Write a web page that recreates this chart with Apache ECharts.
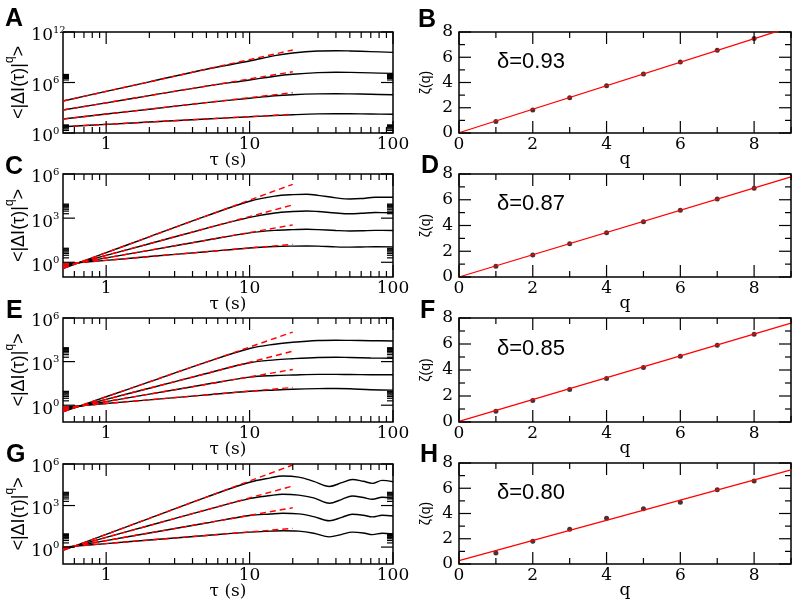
<!DOCTYPE html>
<html><head><meta charset="utf-8">
<script src="https://cdn.jsdelivr.net/npm/echarts@6/dist/echarts.min.js"></script>
<style>html,body{margin:0;padding:0;background:#fff}#c{width:797px;height:608px}</style>
</head><body><div id="c"></div><script>
// ---------- tick definitions ----------
const tauMajorTicks = [1, 10, 100];
const tauTickLabels = ['1', '10', '100'];
const tauMinorTicks = [0.6, 0.7, 0.8, 0.9, 2, 3, 4, 5, 6, 7, 8, 9, 20, 30, 40, 50, 60, 70, 80, 90];
const yMajorA = [1, 1e6, 1e12];
const yExpA = ['0', '6', '12'];
const yMinorA = [2, 3, 4, 5, 6, 7, 8, 9, 2e6, 3e6, 4e6, 5e6, 6e6, 7e6, 8e6, 9e6];
const yMajorCEG = [1, 1e3, 1e6];
const yExpCEG = ['0', '3', '6'];
const yMinorCEG = [2, 3, 4, 5, 6, 7, 8, 9, 2e3, 3e3, 4e3, 5e3, 6e3, 7e3, 8e3, 9e3];
const qMajorTicks = [0, 2, 4, 6, 8];
const qMinorTicks = [1, 3, 5, 7, 9];
const zetaMajorTicks = [0, 2, 4, 6, 8];
const zetaMinorTicks = [1, 3, 5, 7];

// ---------- panel A ----------
const tauA = [0.5, 1, 2, 5, 10, 15, 20, 30, 40, 50, 70, 100];
const A_q1 = [5.62, 10.7, 20.0, 46.8, 85.1, 120, 148, 186, 195, 191, 178, 166];
const A_q2 = [45.7, 178, 676, 4070, 1.32e4, 2.63e4, 3.55e4, 4.47e4, 4.68e4, 4.47e4, 3.98e4, 3.55e4];
const A_q3 = [537, 3800, 2.75e4, 3.72e5, 2.0e6, 5.62e6, 9.55e6, 1.51e7, 1.66e7, 1.58e7, 1.38e7, 1.2e7];
const A_q4 = [6310, 8.71e4, 1.2e6, 3.8e7, 3.55e8, 1.58e9, 3.16e9, 5.5e9, 6.03e9, 5.62e9, 4.68e9, 3.8e9];
const fitTau = [0.5, 20];
const A_fit1 = [5.62, 166];
const A_fit2 = [45.7, 6.17e4];
const A_fit3 = [537, 1.91e7];
const A_fit4 = [6310, 7.24e9];

// ---------- panel C ----------
const tauC = [0.5, 1, 2, 5, 10, 15, 20, 25, 30, 40, 50, 60, 75, 100];
const C_q1 = [0.759, 1.35, 2.45, 5.25, 9.33, 11.7, 12.6, 12.9, 12.6, 11.2, 10.7, 11.0, 11.5, 11.2];
const C_q2 = [0.603, 2.0, 6.46, 31.6, 100, 148, 166, 174, 166, 145, 135, 138, 148, 145];
const C_q3 = [0.479, 2.95, 18.2, 204, 1120, 2240, 2820, 3090, 2820, 2240, 2000, 2140, 2400, 2340];
const C_q4 = [0.380, 4.47, 53.7, 1410, 1.41e4, 3.16e4, 3.98e4, 4.17e4, 3.55e4, 2.4e4, 2.0e4, 2.14e4, 2.63e4, 2.63e4];
const C_fit1 = [0.759, 16.6];
const C_fit2 = [0.603, 347];
const C_fit3 = [0.479, 7940];
const C_fit4 = [0.380, 2.0e5];

// ---------- panel E ----------
const tauE = [0.5, 1, 2, 5, 10, 15, 20, 30, 40, 50, 70, 100];
const E_q1 = [0.724, 1.32, 2.34, 5.13, 9.12, 11.2, 12.6, 13.8, 14.1, 13.5, 11.5, 11.0];
const E_q2 = [0.550, 1.78, 5.75, 27.5, 85.1, 110, 120, 132, 132, 129, 126, 126];
const E_q3 = [0.427, 2.51, 14.8, 151, 832, 1320, 1580, 1910, 2000, 1910, 1780, 1700];
const E_q4 = [0.355, 3.80, 40.7, 933, 7940, 1.58e4, 2.14e4, 2.82e4, 2.95e4, 2.88e4, 2.75e4, 2.63e4];
const E_fit1 = [0.724, 16.6];
const E_fit2 = [0.550, 288];
const E_fit3 = [0.427, 5250];
const E_fit4 = [0.355, 1.07e5];

// ---------- panel G ----------
const tauG = [0.5, 1, 2, 5, 10, 14, 17, 22, 28, 36, 44, 52, 62, 72, 84, 100];
const G_q1 = [1.0, 1.78, 3.24, 6.92, 12.0, 14.1, 15.1, 14.1, 10.0, 5.5, 8.32, 12.0, 10.5, 7.94, 10.0, 8.71];
const G_q2 = [0.832, 2.95, 10.5, 55.0, 191, 245, 275, 251, 158, 79.4, 141, 234, 200, 151, 200, 174];
const G_q3 = [0.692, 5.01, 36.3, 490, 3160, 5250, 6460, 5620, 3550, 1450, 2820, 4900, 3800, 2820, 3980, 3310];
const G_q4 = [0.575, 8.32, 120, 4070, 4.79e4, 1.0e5, 1.35e5, 1.12e5, 5.62e4, 2.4e4, 4.47e4, 7.59e4, 5.62e4, 3.98e4, 6.61e4, 5.25e4];
const G_fit1 = [1.0, 22.4];
const G_fit2 = [0.832, 692];
const G_fit3 = [0.692, 2.57e4];
const G_fit4 = [0.575, 8.51e5];

// ---------- scaling exponents ----------
const qValues = [1, 2, 3, 4, 5, 6, 7, 8];
const B_zeta = [0.92, 1.83, 2.80, 3.75, 4.67, 5.62, 6.56, 7.48];
const D_zeta = [0.84, 1.70, 2.58, 3.44, 4.30, 5.19, 6.05, 6.90];
const F_zeta = [0.82, 1.66, 2.50, 3.35, 4.20, 5.05, 5.90, 6.75];
const H_zeta = [0.87, 1.80, 2.75, 3.63, 4.37, 4.90, 5.88, 6.57];
const fitQ = [0, 9];
const B_fitLine = [0.02, 8.40];
const D_fitLine = [0.0, 7.78];
const F_fitLine = [0.05, 7.60];
const H_fitLine = [0.27, 7.45];
const deltaLabels = ['δ=0.93', 'δ=0.87', 'δ=0.85', 'δ=0.80'];
const panelLetters = ['A', 'B', 'C', 'D', 'E', 'F', 'G', 'H'];

// ---------- layout ----------
const gridRects = [
  {left: 63, top: 32, width: 330, height: 101},
  {left: 459, top: 32, width: 332, height: 101},
  {left: 63, top: 174, width: 330, height: 103},
  {left: 459, top: 174, width: 332, height: 103},
  {left: 63, top: 318, width: 330, height: 104},
  {left: 459, top: 318, width: 332, height: 104},
  {left: 63, top: 464, width: 330, height: 100},
  {left: 459, top: 463, width: 332, height: 101}
];

const SERIF = '"DejaVu Serif", "Liberation Serif", serif';
const SANS = '"DejaVu Sans", "Liberation Sans", sans-serif';
const HELV = '"Liberation Sans", Arial, sans-serif';
const MAJ = 12, MIN = 6;

const logPanels = [
  {grid: 0, tau: tauA, curves: [A_q1, A_q2, A_q3, A_q4], fits: [A_fit1, A_fit2, A_fit3, A_fit4], ymin: 1, ymax: 1e12, yMajor: yMajorA, yExp: yExpA, yMinor: yMinorA},
  {grid: 2, tau: tauC, curves: [C_q1, C_q2, C_q3, C_q4], fits: [C_fit1, C_fit2, C_fit3, C_fit4], ymin: 0.1, ymax: 1e6, yMajor: yMajorCEG, yExp: yExpCEG, yMinor: yMinorCEG},
  {grid: 4, tau: tauE, curves: [E_q1, E_q2, E_q3, E_q4], fits: [E_fit1, E_fit2, E_fit3, E_fit4], ymin: 0.07, ymax: 1e6, yMajor: yMajorCEG, yExp: yExpCEG, yMinor: yMinorCEG},
  {grid: 6, tau: tauG, curves: [G_q1, G_q2, G_q3, G_q4], fits: [G_fit1, G_fit2, G_fit3, G_fit4], ymin: 0.06, ymax: 1e6, yMajor: yMajorCEG, yExp: yExpCEG, yMinor: yMinorCEG}
];
const linPanels = [
  {grid: 1, zeta: B_zeta, fit: B_fitLine},
  {grid: 3, zeta: D_zeta, fit: D_fitLine},
  {grid: 5, zeta: F_zeta, fit: F_fitLine},
  {grid: 7, zeta: H_zeta, fit: H_fitLine}
];

const grids = [], xAxes = [], yAxes = [], series = [];
gridRects.forEach(r => grids.push(Object.assign({show: true, borderColor: '#000', borderWidth: 1.5, backgroundColor: 'transparent'}, r)));

const hidden = {axisLine: {show: false}, axisTick: {show: false}, axisLabel: {show: false}, splitLine: {show: false}};

function frameSeries(gi, spec) {
  const items = [];
  spec.xMajor.forEach((v, i) => items.push({axis: 'x', v, len: MAJ, label: spec.xLabels[i]}));
  spec.xMinor.forEach(v => items.push({axis: 'x', v, len: MIN}));
  spec.yMajor.forEach((v, i) => items.push({axis: 'y', v, len: MAJ, label: spec.yLabels[i]}));
  spec.yMinor.forEach(v => items.push({axis: 'y', v, len: MIN}));
  return {
    type: 'custom', xAxisIndex: gi, yAxisIndex: gi, silent: true, z: 6, clip: false,
    data: items.map(t => t.axis === 'x' ? [t.v, spec.yRef] : [spec.xRef, t.v]),
    renderItem(params, api) {
      const t = items[params.dataIndex];
      const cs = params.coordSys;
      const ls = {stroke: '#000', lineWidth: 1.2};
      const ch = [];
      if (t.axis === 'x') {
        const px = api.coord([t.v, spec.yRef])[0];
        const yb = cs.y + cs.height;
        ch.push({type: 'line', shape: {x1: px, y1: yb, x2: px, y2: yb - t.len}, style: ls});
        ch.push({type: 'line', shape: {x1: px, y1: cs.y, x2: px, y2: cs.y + t.len}, style: ls});
        if (t.label != null) {
          ch.push({type: 'text', x: px, y: yb + 12, style: {text: t.label, fontSize: 17, fontFamily: SERIF, fill: '#000', align: 'center', verticalAlign: 'middle'}});
        }
      } else {
        const py = api.coord([spec.xRef, t.v])[1];
        const xr = cs.x + cs.width;
        ch.push({type: 'line', shape: {x1: cs.x, y1: py, x2: cs.x + t.len, y2: py}, style: ls});
        ch.push({type: 'line', shape: {x1: xr, y1: py, x2: xr - t.len, y2: py}, style: ls});
        if (t.label != null) {
          if (spec.ylog) {
            ch.push({type: 'text', x: cs.x - 10, y: py + 4, style: {text: '10', fontSize: 17, fontFamily: SERIF, fill: '#000', align: 'right', verticalAlign: 'middle'}});
            ch.push({type: 'text', x: cs.x - 10, y: py - 2, style: {text: t.label, fontSize: 10, fontFamily: SERIF, fill: '#000', align: 'left', verticalAlign: 'middle'}});
          } else {
            ch.push({type: 'text', x: cs.x - 6, y: py, style: {text: t.label, fontSize: 17, fontFamily: SERIF, fill: '#000', align: 'right', verticalAlign: 'middle'}});
          }
        }
      }
      return {type: 'group', children: ch};
    }
  };
}

// build log panels
logPanels.forEach(p => {
  const gi = p.grid;
  xAxes[gi] = Object.assign({gridIndex: gi, type: 'log', logBase: 10, min: 0.5, max: 100,
    name: 'τ (s)', nameLocation: 'middle', nameGap: 19,
    nameTextStyle: {fontFamily: SERIF, fontSize: 17, color: '#000'}}, hidden);
  yAxes[gi] = Object.assign({gridIndex: gi, type: 'log', logBase: 10, min: p.ymin, max: p.ymax,
    name: '{b|<|ΔI(τ)|}{s|q}{b|>}', nameLocation: 'middle', nameGap: 35,
    nameTextStyle: {fontFamily: HELV, fontSize: 18, color: '#000',
      rich: {b: {fontFamily: HELV, fontSize: 18, color: '#000', lineHeight: 24, verticalAlign: 'bottom'},
             s: {fontFamily: HELV, fontSize: 12, color: '#000', lineHeight: 12, verticalAlign: 'top'}}}}, hidden);
  p.curves.forEach(c => {
    series.push({type: 'line', xAxisIndex: gi, yAxisIndex: gi, data: p.tau.map((x, i) => [x, c[i]]),
      smooth: 0.35, symbol: 'none', z: 2, lineStyle: {color: '#000', width: 1.4}});
  });
  p.fits.forEach(f => {
    series.push({type: 'line', xAxisIndex: gi, yAxisIndex: gi, data: fitTau.map((x, i) => [x, f[i]]),
      symbol: 'none', z: 3, lineStyle: {color: '#ff0000', width: 1.4, type: [6, 4]}});
  });
  series.push(frameSeries(gi, {xMajor: tauMajorTicks, xLabels: tauTickLabels, xMinor: tauMinorTicks,
    yMajor: p.yMajor, yLabels: p.yExp, yMinor: p.yMinor, xRef: 1, yRef: 1, ylog: true}));
});

// build linear panels
linPanels.forEach(p => {
  const gi = p.grid;
  xAxes[gi] = Object.assign({gridIndex: gi, type: 'value', min: 0, max: 9,
    name: 'q', nameLocation: 'middle', nameGap: 18,
    nameTextStyle: {fontFamily: SERIF, fontSize: 17, color: '#000'}}, hidden);
  yAxes[gi] = Object.assign({gridIndex: gi, type: 'value', min: 0, max: 8,
    name: 'ζ(q)', nameLocation: 'middle', nameGap: 26,
    nameTextStyle: {fontFamily: HELV, fontSize: 14, color: '#000'}}, hidden);
  series.push({type: 'scatter', xAxisIndex: gi, yAxisIndex: gi, data: qValues.map((q, i) => [q, p.zeta[i]]),
    symbol: 'circle', symbolSize: 5, z: 2, itemStyle: {color: '#1a0000'}});
  series.push({type: 'line', xAxisIndex: gi, yAxisIndex: gi, data: fitQ.map((q, i) => [q, p.fit[i]]),
    symbol: 'none', z: 3, clip: true, lineStyle: {color: '#ff0000', width: 1.3}});
  series.push(frameSeries(gi, {xMajor: qMajorTicks, xLabels: qMajorTicks.map(String), xMinor: qMinorTicks,
    yMajor: zetaMajorTicks, yLabels: zetaMajorTicks.map(String), yMinor: zetaMinorTicks, xRef: 0, yRef: 0, ylog: false}));
});

// annotations
const letterPos = [[5, 7], [418, 8], [5, 155], [421, 154], [6, 299], [420, 299], [6, 443], [420, 443]];
const deltaPos = [[497, 62], [497, 204], [497, 349], [497, 493]];
const graphic = [];
panelLetters.forEach((L, i) => graphic.push({type: 'text', left: letterPos[i][0], top: letterPos[i][1],
  style: {text: L, font: 'bold 25px "Liberation Sans", Arial, sans-serif', fill: '#000'}}));
deltaLabels.forEach((d, i) => graphic.push({type: 'text', x: deltaPos[i][0], y: deltaPos[i][1],
  style: {text: d, fontSize: 22, fontFamily: HELV, fill: '#000', verticalAlign: 'middle', align: 'left'}}));

const chart = echarts.init(document.getElementById('c'), null, {renderer: 'canvas'});
chart.setOption({
  animation: false,
  backgroundColor: '#fff',
  grid: grids, xAxis: xAxes, yAxis: yAxes, series: series, graphic: graphic
});
</script></body></html>
